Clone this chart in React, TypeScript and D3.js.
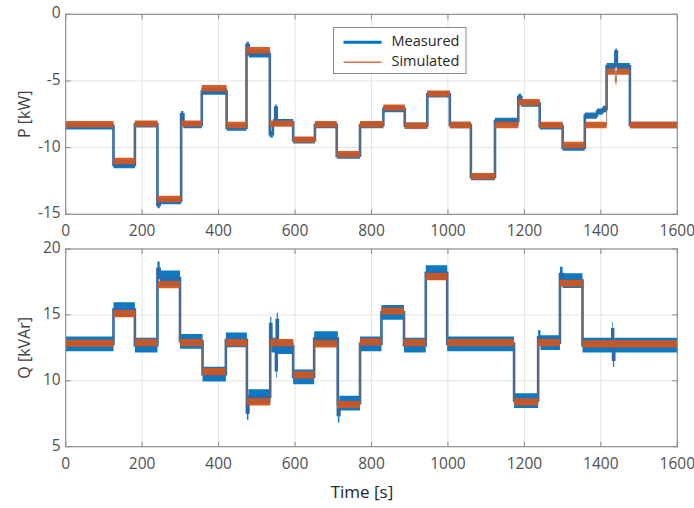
import React from "react";
import * as d3 from "d3";

// ---------- data ----------
const timeTicks = [0, 200, 400, 600, 800, 1000, 1200, 1400, 1600];
const pTicks = [0, -5, -10, -15];
const qTicks = [5, 10, 15, 20];
const seriesNames = ["Measured", "Simulated"];

// Active power P [kW] — step start times and levels
const pMeasuredTimes = [0, 125, 181, 240, 246, 302, 308, 356, 421, 473, 479, 534, 542, 548, 552, 595, 652, 709, 770, 831, 887, 946, 1005, 1060, 1123, 1184, 1192, 1240, 1300, 1358, 1390, 1405, 1415, 1438, 1442, 1476];
const pMeasuredValues = [-8.4, -11.3, -8.25, -14.3, -14.0, -7.5, -8.3, -5.8, -8.5, -2.3, -3.0, -9.0, -8.1, -7.0, -8.1, -9.45, -8.3, -10.6, -8.3, -7.1, -8.35, -6.0, -8.3, -12.2, -8.0, -6.2, -6.7, -8.4, -10.0, -7.6, -7.3, -7.1, -3.9, -2.8, -3.9, -8.3];
const pSimulatedTimes = [0, 125, 181, 240, 302, 356, 421, 473, 534, 595, 652, 709, 770, 831, 887, 946, 1005, 1060, 1123, 1184, 1240, 1300, 1358, 1415, 1438, 1441, 1476];
const pSimulatedValues = [-8.25, -11.0, -8.2, -13.85, -8.2, -5.55, -8.3, -2.7, -8.2, -9.4, -8.25, -10.5, -8.25, -7.0, -8.35, -5.95, -8.3, -12.15, -8.3, -6.6, -8.3, -9.8, -8.3, -4.3, -5.0, -4.3, -8.3];

// Reactive power Q [kVAr]
const qMeasuredTimes = [0, 125, 181, 240, 246, 299, 358, 419, 474, 478, 535, 538, 550, 552, 555, 595, 650, 712, 716, 770, 826, 885, 942, 998, 1173, 1236, 1242, 1293, 1300, 1352, 1430, 1432, 1435];
const qMeasuredValues = [12.8, 15.4, 12.7, 18.5, 17.8, 13.0, 10.5, 13.1, 7.6, 8.8, 14.3, 12.7, 10.8, 14.6, 12.6, 10.3, 13.2, 7.4, 8.3, 12.8, 15.2, 12.7, 18.2, 12.8, 8.5, 13.3, 12.9, 18.1, 17.6, 12.7, 13.9, 11.6, 12.7];
const qSimulatedTimes = [0, 125, 181, 240, 299, 358, 419, 474, 535, 595, 650, 710, 770, 826, 885, 942, 998, 1173, 1236, 1293, 1352];
const qSimulatedValues = [12.85, 15.1, 12.9, 17.3, 12.9, 10.7, 12.9, 8.4, 12.9, 10.45, 12.8, 8.2, 12.95, 15.3, 12.9, 17.9, 12.9, 8.4, 12.9, 17.4, 12.8];

const pMeasuredSpread = 0.24;
const pSimulatedSpread = 0.24;
const qMeasuredSpread = 0.56;
const qSimulatedSpread = 0.27;

const T_END = 1600;

// ---------- layout ----------
const W = 694;
const H = 508;
const X0 = 65.7;
const X1 = 677.3;
const BLUE = "#0072BD";
const ORANGE = "#D95319";
const FONT = "'Open Sans', 'DejaVu Sans', sans-serif";

type Pt = [number, number];
const toPts = (ts: number[], vs: number[]): Pt[] => {
  const pts: Pt[] = ts.map((t, i) => [t, vs[i]] as Pt);
  pts.push([T_END, vs[vs.length - 1]]);
  return pts;
};

const x = d3.scaleLinear().domain([0, 1600]).range([X0, X1]);

interface PanelProps {
  top: number;
  bottom: number;
  domain: [number, number];
  ticks: number[];
  label: string;
  meas: Pt[];
  sim: Pt[];
  measSpread: number;
  simSpread: number;
  id: string;
}

function Panel({ top, bottom, domain, ticks, label, meas, sim, measSpread, simSpread, id }: PanelProps) {
  const y = d3.scaleLinear().domain(domain).range([bottom, top]);
  const band = (s: number) =>
    d3
      .area<Pt>()
      .curve(d3.curveStepAfter)
      .x((d) => x(d[0]))
      .y0((d) => y(d[1] - s))
      .y1((d) => y(d[1] + s));
  const line = d3
    .line<Pt>()
    .curve(d3.curveStepAfter)
    .x((d) => x(d[0]))
    .y((d) => y(d[1]));
  const midY = (top + bottom) / 2;
  return (
    <g>
      <defs>
        <clipPath id={`clip-${id}`}>
          <rect x={X0} y={top} width={X1 - X0} height={bottom - top} />
        </clipPath>
      </defs>
      <rect x={X0} y={top} width={X1 - X0} height={bottom - top} fill="#fff" />
      {timeTicks.map((t) => (
        <line key={`gx${t}`} x1={x(t)} x2={x(t)} y1={top} y2={bottom} stroke="#e3e3e3" strokeWidth={1} />
      ))}
      {ticks.map((v) => (
        <line key={`gy${v}`} x1={X0} x2={X1} y1={y(v)} y2={y(v)} stroke="#e3e3e3" strokeWidth={1} />
      ))}
      <g clipPath={`url(#clip-${id})`}>
        <path d={band(measSpread)(meas) || ""} fill={BLUE} opacity={0.95} />
        <path d={line(meas) || ""} fill="none" stroke="#2a6aa8" strokeWidth={2.6} />
        <path d={band(simSpread)(sim) || ""} fill={ORANGE} opacity={0.95} />
        <path d={line(sim) || ""} fill="none" stroke="#8a6a5a" strokeWidth={1.2} opacity={0.7} />
      </g>
      <rect x={X0} y={top} width={X1 - X0} height={bottom - top} fill="none" stroke="#8a8a8a" strokeWidth={1.1} />
      {timeTicks.map((t) => (
        <g key={`tx${t}`}>
          <line x1={x(t)} x2={x(t)} y1={bottom} y2={bottom - 5} stroke="#8a8a8a" />
          <line x1={x(t)} x2={x(t)} y1={top} y2={top + 5} stroke="#8a8a8a" />
          <text x={x(t)} y={bottom + 18} textAnchor="middle" dominantBaseline="middle" fontSize={15.5} fill="#505050" fontFamily={FONT}>
            {t}
          </text>
        </g>
      ))}
      {ticks.map((v) => (
        <g key={`ty${v}`}>
          <line x1={X0} x2={X0 + 5} y1={y(v)} y2={y(v)} stroke="#8a8a8a" />
          <line x1={X1} x2={X1 - 5} y1={y(v)} y2={y(v)} stroke="#8a8a8a" />
          <text x={X0 - 5} y={y(v)} textAnchor="end" dominantBaseline="middle" fontSize={15.5} fill="#505050" fontFamily={FONT}>
            {v}
          </text>
        </g>
      ))}
      <text
        transform={`translate(26,${midY}) rotate(-90)`}
        textAnchor="middle"
        dominantBaseline="middle"
        fontSize={16}
        fill="#404040"
        fontFamily={FONT}
      >
        {label}
      </text>
    </g>
  );
}

export default function App() {
  return (
    <svg width={W} height={H} viewBox={`0 0 ${W} ${H}`} style={{ position: "absolute", left: 0, top: 0, background: "#fff" }}>
      <rect width={W} height={H} fill="#fff" />
      <Panel
        id="p"
        top={14.3}
        bottom={214.3}
        domain={[-15, 0]}
        ticks={pTicks}
        label="P [kW]"
        meas={toPts(pMeasuredTimes, pMeasuredValues)}
        sim={toPts(pSimulatedTimes, pSimulatedValues)}
        measSpread={pMeasuredSpread}
        simSpread={pSimulatedSpread}
      />
      <Panel
        id="q"
        top={249}
        bottom={446.7}
        domain={[5, 20]}
        ticks={qTicks}
        label="Q [kVAr]"
        meas={toPts(qMeasuredTimes, qMeasuredValues)}
        sim={toPts(qSimulatedTimes, qSimulatedValues)}
        measSpread={qMeasuredSpread}
        simSpread={qSimulatedSpread}
      />
      {/* legend */}
      <g fontFamily={FONT} fontSize={14.5} fill="#262626">
        <rect x={333.5} y={27.5} width={132.5} height={46} fill="#fff" stroke="#8a8a8a" strokeWidth={1} />
        <line x1={343.5} x2={381.5} y1={42.3} y2={42.3} stroke={BLUE} strokeWidth={3} />
        <line x1={343.5} x2={381.5} y1={62.3} y2={62.3} stroke={ORANGE} strokeWidth={1.5} opacity={0.85} />
        <text x={391.5} y={42.3} dominantBaseline="middle">{seriesNames[0]}</text>
        <text x={391.5} y={62.3} dominantBaseline="middle">{seriesNames[1]}</text>
      </g>
      <text x={362} y={493} textAnchor="middle" dominantBaseline="middle" fontSize={17} fill="#262626" fontFamily={FONT}>
        Time [s]
      </text>
    </svg>
  );
}
